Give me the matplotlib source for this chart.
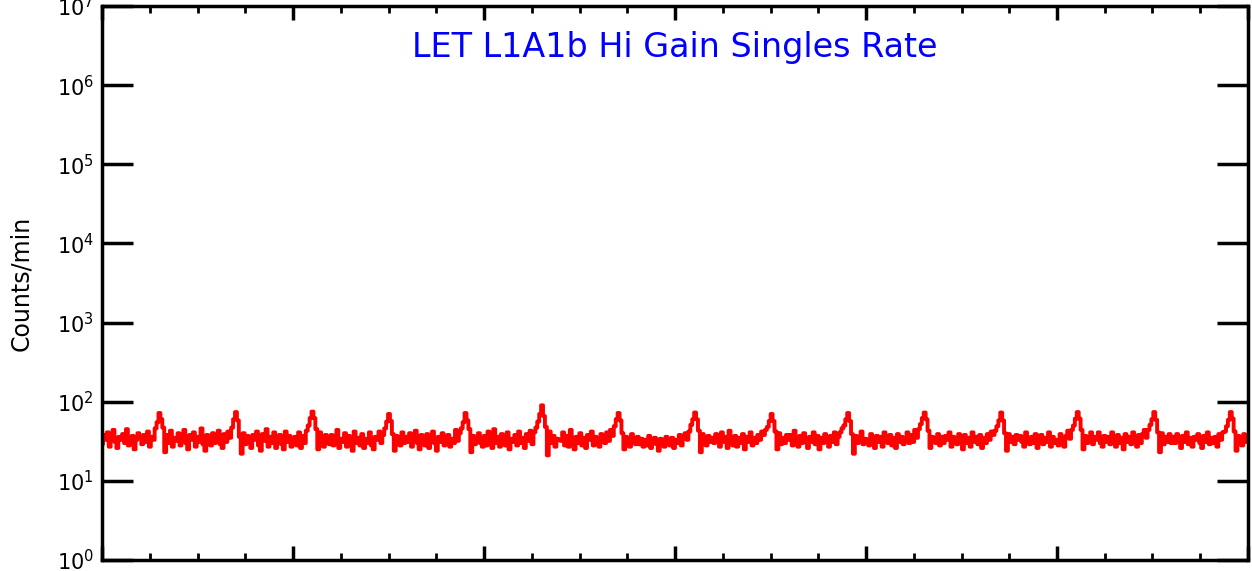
import numpy as np
import matplotlib
matplotlib.use("Agg")
import matplotlib.pyplot as plt
from matplotlib.ticker import MultipleLocator, LogLocator, NullLocator

# Singles rate (counts/min), one row per spike period
counts = [
    29, 38, 33, 41, 27, 35, 44, 31, 26, 36, 33, 39, 30, 45, 28, 34, 37, 25, 33, 40,
    35, 29, 38, 31, 42, 27, 36, 33, 46, 55, 72, 60, 47, 23, 38, 30, 43, 27, 35, 32,
    40, 28, 35, 44, 30, 25, 38, 33, 41, 27, 36, 31, 46, 29, 24, 38, 34, 28, 40, 30,
    36, 43, 29, 26, 39, 31, 42, 35, 47, 60, 74, 58, 36, 22, 40, 29, 37, 33, 26, 38,
    33, 42, 28, 24, 39, 32, 45, 27, 36, 30, 41, 26, 35, 38, 29, 25, 42, 31, 37, 27,
    33, 36, 28, 41, 26, 37, 30, 43, 50, 62, 75, 62, 45, 25, 41, 30, 27, 38, 34, 29,
    38, 28, 36, 44, 26, 34, 31, 40, 27, 37, 32, 24, 42, 30, 35, 28, 39, 26, 34, 30,
    41, 28, 25, 36, 33, 42, 30, 38, 46, 56, 70, 57, 39, 24, 37, 32, 28, 41, 30, 36,
    31, 40, 27, 35, 43, 30, 25, 38, 32, 28, 39, 26, 34, 42, 30, 24, 36, 31, 40, 28,
    33, 38, 27, 34, 30, 44, 32, 40, 46, 55, 72, 58, 45, 23, 37, 29, 34, 40, 30, 27,
    37, 28, 42, 32, 26, 45, 30, 36, 27, 39, 33, 28, 41, 25, 34, 31, 38, 28, 42, 30,
    35, 26, 39, 32, 43, 29, 41, 47, 56, 70, 90, 66, 48, 21, 42, 30, 37, 27, 34, 33,
    32, 41, 28, 37, 27, 44, 32, 25, 36, 30, 40, 28, 35, 26, 38, 33, 42, 28, 36, 31,
    27, 39, 34, 30, 41, 32, 44, 37, 49, 60, 72, 58, 40, 25, 36, 31, 27, 39, 33, 29,
    36, 29, 34, 27, 33, 28, 37, 26, 31, 35, 29, 24, 34, 30, 27, 36, 31, 28, 35, 26,
    33, 30, 38, 28, 36, 40, 33, 42, 51, 60, 73, 60, 43, 23, 39, 33, 28, 37, 31, 35,
    30, 39, 33, 27, 41, 31, 36, 26, 43, 33, 28, 37, 27, 35, 30, 39, 25, 36, 31, 41,
    28, 35, 30, 38, 33, 42, 38, 44, 48, 57, 70, 57, 42, 25, 40, 29, 35, 30, 38, 33,
    38, 28, 43, 34, 27, 37, 30, 40, 33, 26, 36, 31, 41, 29, 37, 25, 35, 30, 39, 33,
    27, 37, 31, 41, 29, 36, 41, 46, 50, 60, 72, 57, 39, 22, 37, 30, 36, 42, 29, 34,
    33, 28, 39, 35, 26, 37, 31, 36, 27, 41, 33, 30, 38, 28, 35, 26, 39, 31, 36, 29,
    33, 41, 30, 38, 31, 44, 35, 45, 52, 62, 73, 60, 43, 26, 36, 33, 30, 39, 28, 36,
    30, 37, 33, 41, 27, 36, 31, 29, 39, 33, 25, 38, 30, 35, 27, 41, 31, 36, 29, 38,
    26, 35, 30, 39, 33, 42, 38, 43, 49, 58, 73, 58, 40, 24, 39, 31, 36, 29, 38, 33,
    37, 31, 27, 41, 34, 29, 36, 30, 39, 26, 33, 38, 29, 35, 31, 41, 27, 36, 30, 33,
    28, 39, 33, 27, 37, 43, 34, 44, 50, 61, 74, 61, 44, 25, 37, 30, 35, 41, 29, 36,
    33, 41, 30, 27, 37, 31, 36, 29, 41, 33, 27, 38, 30, 35, 25, 39, 31, 36, 29, 41,
    33, 27, 38, 30, 39, 44, 35, 44, 51, 60, 74, 59, 41, 23, 40, 29, 36, 31, 39, 30,
    36, 30, 39, 33, 26, 37, 31, 41, 29, 35, 27, 36, 33, 39, 30, 26, 37, 31, 41, 29,
    35, 30, 36, 27, 39, 33, 41, 42, 49, 59, 74, 61, 42, 24, 37, 33, 28, 39, 31, 36,
]
hours = np.linspace(0, 24, len(counts))

title = "LET L1A1b Hi Gain Singles Rate"
ylabel = "Counts/min"

fig = plt.figure(figsize=(12.52, 5.71), dpi=100)
ax = fig.add_axes([0.0815, 0.0193, 0.9153, 0.9702])

ax.plot(hours, counts, color="red", linewidth=2.8, drawstyle="steps-mid")

ax.set_yscale("log")
ax.set_ylim(1, 1e7)
ax.set_xlim(0, 24)

ax.yaxis.set_major_locator(LogLocator(base=10, numticks=10))
ax.yaxis.set_minor_locator(NullLocator())
ax.xaxis.set_major_locator(MultipleLocator(4))
ax.xaxis.set_minor_locator(MultipleLocator(1))

ax.tick_params(axis="y", which="major", direction="in", length=22, width=2.5,
               left=True, right=True, labelsize=15, pad=6)
ax.tick_params(axis="x", which="major", direction="in", length=10, width=2.5,
               top=True, bottom=True, labelbottom=False)
ax.tick_params(axis="x", which="minor", direction="in", length=5, width=2,
               top=True, bottom=True)

for s in ax.spines.values():
    s.set_linewidth(2.5)

ax.set_ylabel(ylabel, fontsize=17, labelpad=17)
ax.text(0.5, 0.925, title, transform=ax.transAxes, ha="center", va="center",
        color="blue", fontsize=24)

fig.savefig("out.png", dpi=100)
